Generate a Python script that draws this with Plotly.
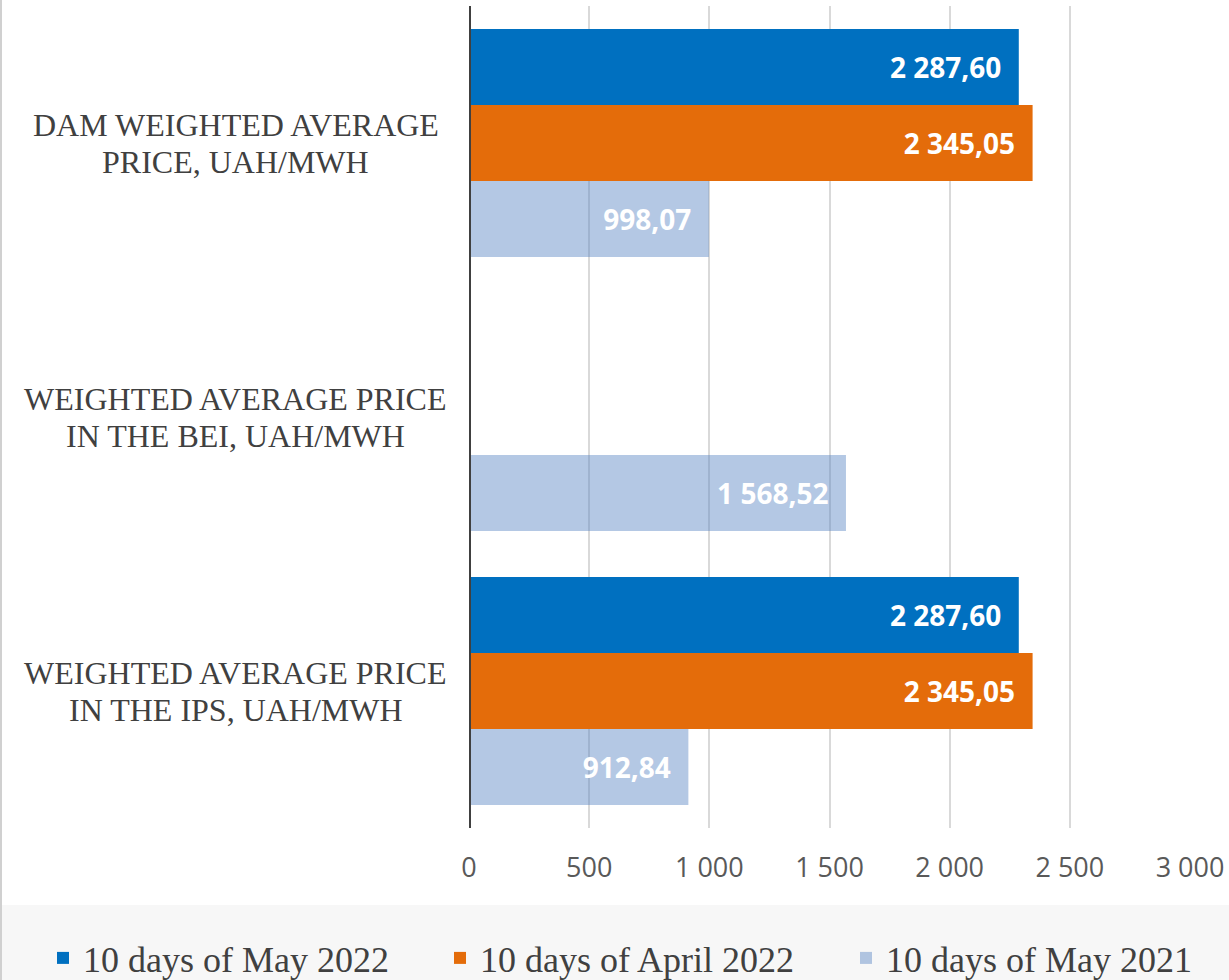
import plotly.graph_objects as go

categories = ['DAM WEIGHTED AVERAGE<br>PRICE, UAH/MWH',
              'WEIGHTED AVERAGE PRICE<br>IN THE BEI, UAH/MWH',
              'WEIGHTED AVERAGE PRICE<br>IN THE IPS, UAH/MWH']
may_2022 = [2287.60, None, 2287.60]
april_2022 = [2345.05, None, 2345.05]
may_2021 = [998.07, 1568.52, 912.84]
series_names = ['10 days of May 2022', '10 days of April 2022', '10 days of May 2021']
x_ticks = [0, 500, 1000, 1500, 2000, 2500, 3000]

colors = ['#0070C0', '#E46C0A', 'rgba(89,133,196,0.45)']
legend_left = [43, 440, 846]  # pixel left of each legend entry
W, H = 1229, 980
L, R, T, B = 469, 39, 6, 152
pw, ph = W - L - R, H - T - B


def px_x(p):
    return (p - L) / pw


def px_y(p):
    return (H - B - p) / ph


fig = go.Figure()
legend_ids = ['legend', 'legend2', 'legend3']
for name, vals, col, lid in zip(series_names, [may_2022, april_2022, may_2021], colors, legend_ids):
    fig.add_trace(go.Bar(
        y=categories, x=vals, name=name, orientation='h', legend=lid,
        marker=dict(color=col, line=dict(width=0)),
        texttemplate='%{x:,.2f}\u00a0\u00a0', textposition='inside', insidetextanchor='end',
        textfont=dict(family='Open Sans', size=28, color='white', weight='bold'),
        textangle=0,
    ))

# category labels, centred like the original (one annotation per line for tighter spacing)
for c in categories:
    lines = c.split('<br>')
    for i, line in enumerate(lines):
        fig.add_annotation(x=px_x(236), xref='paper', y=c, yref='y', text=line,
                           showarrow=False, xanchor='center', yanchor='middle',
                           yshift=18.5 - 37 * i,
                           font=dict(family='Liberation Serif', size=32, color='#404040'))

# legend band and left frame
fig.add_shape(type='rect', xref='paper', yref='paper', layer='below',
              x0=px_x(0), x1=px_x(W), y0=px_y(H), y1=px_y(905),
              fillcolor='#F7F7F7', line=dict(width=0))
fig.add_shape(type='line', xref='paper', yref='paper',
              x0=px_x(1), x1=px_x(1), y0=px_y(H), y1=px_y(0),
              line=dict(color='#D0D0D0', width=2))

legend_style = dict(orientation='h', xanchor='left', y=px_y(958), yanchor='middle',
                    font=dict(family='Liberation Serif', size=36, color='#404040'),
                    bgcolor='rgba(0,0,0,0)', borderwidth=0)

fig.update_layout(
    width=W, height=H,
    margin=dict(l=L, r=R, t=T, b=B, pad=0, autoexpand=False),
    paper_bgcolor='white', plot_bgcolor='white',
    barmode='group', bargap=0.168, bargroupgap=0,
    separators=', ',
    showlegend=True,
    legend=dict(x=px_x(legend_left[0]), **legend_style),
    legend2=dict(x=px_x(legend_left[1]), **legend_style),
    legend3=dict(x=px_x(legend_left[2]), **legend_style),
    xaxis=dict(range=[0, 3000], tickvals=x_ticks, tickformat=',d',
               showgrid=True, gridcolor='#D9D9D9', gridwidth=1.5,
               zeroline=False, showline=False,
               ticks='outside', ticklen=16, tickcolor='rgba(0,0,0,0)',
               tickfont=dict(family='Open Sans', size=27, color='#595959')),
    yaxis=dict(autorange='reversed', showticklabels=False, showgrid=False,
               zeroline=False, showline=False),
)
fig.add_vline(x=0, line=dict(color='#404040', width=4), layer='above')

fig.write_html('out.html', config={'displayModeBar': False},
               post_script="document.body.style.margin='0';")
